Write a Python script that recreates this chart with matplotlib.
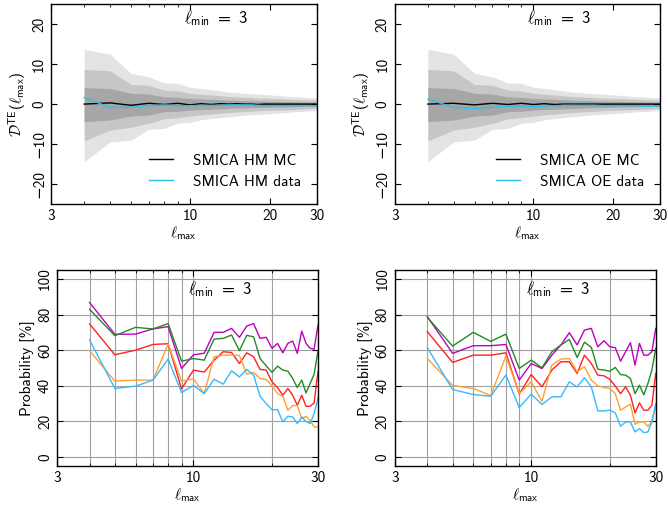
import numpy as np
import matplotlib
matplotlib.use("Agg")
import matplotlib.pyplot as plt
from matplotlib.ticker import FixedLocator, FixedFormatter, NullFormatter

plt.rcParams['font.family'] = ['cmss10', 'DejaVu Sans']
plt.rcParams['mathtext.fontset'] = 'custom'
plt.rcParams['mathtext.rm'] = 'cmss10'
plt.rcParams['mathtext.sf'] = 'cmss10'
plt.rcParams['mathtext.it'] = 'cmmi10'
plt.rcParams['mathtext.cal'] = 'cmsy10'
plt.rcParams['axes.unicode_minus'] = True

# multipoles
ell = list(range(4, 31))

# MC bands (1, 2, 3 sigma), upper and lower edges
band1_hi = [4.1, 3.9, 2.7, 2.5, 1.8, 1.7, 1.4, 1.3, 1.2, 1.1, 1.0, 0.95, 0.9, 0.85, 0.8,
            0.75, 0.7, 0.7, 0.65, 0.65, 0.6, 0.6, 0.55, 0.55, 0.5, 0.5, 0.5]
band1_lo = [-4.4, -4.0, -3.0, -2.75, -1.9, -1.8, -1.5, -1.4, -1.3, -1.2, -1.1, -1.0, -0.95,
            -0.9, -0.85, -0.8, -0.8, -0.75, -0.7, -0.7, -0.65, -0.65, -0.6, -0.6, -0.55, -0.55, -0.55]
band2_hi = [8.7, 8.3, 4.9, 4.7, 3.5, 3.3, 2.7, 2.5, 2.3, 2.1, 1.9, 1.8, 1.7, 1.6, 1.5,
            1.5, 1.4, 1.4, 1.3, 1.3, 1.2, 1.2, 1.1, 1.1, 1.0, 1.0, 1.0]
band2_lo = [-9.2, -6.5, -5.8, -4.8, -3.7, -3.4, -3.0, -2.7, -2.5, -2.3, -2.1, -2.0, -1.9,
            -1.8, -1.7, -1.6, -1.6, -1.5, -1.5, -1.4, -1.4, -1.3, -1.3, -1.2, -1.2, -1.1, -1.1]
band3_hi = [13.7, 12.5, 7.7, 6.8, 5.3, 5.2, 4.2, 3.9, 3.6, 3.3, 3.0, 2.9, 2.7, 2.6, 2.5,
            2.4, 2.3, 2.2, 2.1, 2.0, 1.9, 1.8, 1.8, 1.7, 1.6, 1.6, 1.5]
band3_lo = [-14.4, -9.5, -9.0, -6.3, -6.1, -4.8, -4.6, -3.9, -3.6, -3.4, -3.2, -3.0, -2.8,
            -2.7, -2.6, -2.5, -2.4, -2.3, -2.2, -2.1, -2.0, -1.9, -1.9, -1.8, -1.7, -1.7, -1.6]

hm_mc = [0.0, 0.3, -0.3, 0.2, -0.1, 0.2, -0.2, 0.1, -0.1, 0.1, 0.0, 0.1, 0.0, 0.0, -0.1,
         0.0, 0.0, 0.0, 0.0, 0.0, 0.0, 0.0, 0.0, 0.0, 0.0, 0.0, 0.0]
hm_data = [1.6, -0.8, -0.8, -0.4, -0.2, -0.4, -0.4, -0.3, -0.3, -0.3, -0.2, -0.2, -0.2, -0.2,
           -0.3, -0.4, -0.4, -0.4, -0.4, -0.4, -0.4, -0.4, -0.4, -0.4, -0.4, -0.4, -0.4]
oe_mc = [0.0, 0.2, -0.2, 0.2, -0.1, 0.2, -0.1, 0.1, -0.1, 0.0, 0.0, 0.0, 0.0, 0.0, 0.0,
         0.0, 0.0, 0.0, 0.0, 0.0, 0.0, 0.0, 0.0, 0.0, 0.0, 0.0, 0.0]
oe_data = [1.2, -0.8, -1.1, -0.8, -0.5, -0.5, -0.6, -0.5, -0.4, -0.3, -0.3, -0.3, -0.3, -0.3,
           -0.4, -0.4, -0.4, -0.4, -0.4, -0.4, -0.4, -0.5, -0.5, -0.5, -0.5, -0.5, -0.5]

# probabilities [%], HM
hm_magenta = [86.7, 68.9, 69.0, 71.9, 73.2, 49.7, 57.4, 58.3, 70.0, 70.0, 72.2, 67.2, 73.5, 74.9,
              66.6, 67.2, 61.0, 63.8, 58.5, 63.8, 65.1, 58.2, 70.7, 63.8, 61.0, 60.6, 74.0]
hm_green = [82.9, 68.1, 72.8, 71.9, 74.9, 53.8, 55.3, 54.4, 66.2, 66.6, 68.5, 59.7, 68.3, 67.5,
            55.3, 51.2, 47.5, 51.0, 48.8, 48.2, 44.1, 39.0, 43.2, 36.0, 41.3, 46.5, 59.5]
hm_red = [74.7, 57.4, 60.0, 63.2, 63.6, 38.3, 48.8, 47.7, 54.4, 59.1, 58.7, 52.5, 58.5, 56.3,
          49.2, 48.8, 42.2, 39.0, 34.7, 38.5, 34.7, 29.1, 34.7, 28.5, 28.5, 30.4, 48.0]
hm_orange = [59.7, 42.6, 43.2, 43.2, 63.4, 42.6, 43.9, 35.6, 56.3, 57.2, 57.2, 57.0, 46.5, 47.5,
             44.1, 43.5, 40.0, 35.6, 34.1, 26.3, 28.9, 28.9, 21.6, 22.9, 20.6, 16.9, 16.9]
hm_blue = [65.7, 38.5, 39.8, 43.2, 55.0, 36.2, 40.2, 35.6, 43.7, 40.9, 48.4, 45.0, 49.2, 46.0,
           34.1, 30.0, 26.6, 26.6, 19.7, 22.9, 22.5, 18.8, 22.5, 20.0, 18.8, 24.4, 33.0]

# probabilities [%], OE
oe_magenta = [78.8, 58.2, 62.5, 62.5, 63.2, 43.2, 52.5, 49.7, 57.2, 62.9, 69.8, 62.9, 71.3, 72.2,
              61.9, 65.3, 61.9, 61.4, 53.8, 59.1, 64.2, 51.6, 63.8, 57.2, 57.2, 59.1, 72.2]
oe_green = [78.4, 62.3, 70.0, 64.9, 69.0, 49.7, 54.4, 50.1, 59.1, 62.9, 66.0, 55.9, 64.5, 61.5,
            49.3, 48.8, 48.2, 50.3, 46.3, 46.0, 44.1, 35.6, 40.3, 34.9, 41.3, 48.8, 61.0]
oe_red = [70.4, 53.1, 57.2, 57.2, 58.5, 35.3, 46.3, 39.4, 48.8, 53.5, 53.5, 46.9, 57.2, 52.5,
          46.0, 45.6, 43.7, 39.8, 35.6, 39.4, 34.7, 24.8, 30.4, 26.3, 26.3, 29.1, 46.9]
oe_orange = [55.3, 40.2, 38.5, 34.5, 56.7, 35.6, 42.2, 31.3, 51.6, 55.0, 55.3, 47.8, 50.7, 43.2,
             40.0, 39.0, 38.5, 35.6, 26.3, 28.1, 29.6, 18.4, 19.7, 19.7, 17.3, 19.7, 28.0]
oe_blue = [61.4, 37.9, 35.1, 34.1, 46.0, 27.8, 35.3, 29.5, 33.8, 33.8, 42.2, 39.4, 44.5, 39.4,
           25.9, 25.9, 26.3, 24.8, 17.3, 19.7, 19.7, 14.1, 15.9, 13.7, 14.1, 19.7, 30.0]

minor_ell = [4, 5, 6, 7, 8, 9, 20]
cyan = '#33bbee'
prob_colors = ['#c000c0', '#228b22', '#ff2020', '#ffa030', '#33bbff']

fig = plt.figure(figsize=(6.68, 5.11), dpi=100)
ax_tl = fig.add_axes([0.0763, 0.6008, 0.398, 0.391])
ax_tr = fig.add_axes([0.5909, 0.6008, 0.397, 0.391])
ax_bl = fig.add_axes([0.0853, 0.0881, 0.3907, 0.3836])
ax_br = fig.add_axes([0.5909, 0.0881, 0.3907, 0.3836])


def style_axis(ax, xticks):
    ax.set_xscale('log')
    ax.set_xlim(3, 30)
    ax.xaxis.set_major_locator(FixedLocator(xticks))
    ax.xaxis.set_major_formatter(FixedFormatter([str(t) for t in xticks]))
    ax.xaxis.set_minor_locator(FixedLocator(minor_ell))
    ax.xaxis.set_minor_formatter(NullFormatter())
    ax.tick_params(which='both', direction='in', top=True, right=True, labelsize=11)
    ax.tick_params(which='major', length=4, width=0.8)
    ax.tick_params(which='minor', length=2, width=0.6)
    for lab in ax.get_yticklabels():
        lab.set_rotation(90)
        lab.set_va('center')
    ax.set_xlabel(r'$\ell_{\rm max}$', fontsize=11, labelpad=1)
    for s in ax.spines.values():
        s.set_linewidth(1.0)


for ax, mc, data, name in [(ax_tl, hm_mc, hm_data, 'HM'), (ax_tr, oe_mc, oe_data, 'OE')]:
    ax.fill_between(ell, band3_lo, band3_hi, color='#e3e3e3', lw=0)
    ax.fill_between(ell, band2_lo, band2_hi, color='#c6c6c6', lw=0)
    ax.fill_between(ell, band1_lo, band1_hi, color='#a6a6a6', lw=0)
    ax.plot(ell, mc, color='black', lw=1.0, label='SMICA %s MC' % name)
    ax.plot(ell, data, color=cyan, lw=1.0, label='SMICA %s data' % name)
    ax.set_ylim(-25, 25)
    ax.set_yticks([-20, -10, 0, 10, 20])
    style_axis(ax, [3, 10, 20, 30])
    ax.set_ylabel(r'$\mathcal{D}^{\rm TE}(\ell_{\rm max})$', fontsize=11, labelpad=2)
    ax.text(0.62, 0.93, r'$\ell_{\rm min}\ =\ 3$', transform=ax.transAxes,
            ha='center', va='center', fontsize=12)
    ax.legend(loc='lower right', frameon=False, fontsize=11, handlelength=1.6,
              handletextpad=1.3, borderaxespad=0.6, labelspacing=0.45)

for ax, series in [(ax_bl, [hm_magenta, hm_green, hm_red, hm_orange, hm_blue]),
                   (ax_br, [oe_magenta, oe_green, oe_red, oe_orange, oe_blue])]:
    ax.grid(True, which='both', color='#a0a0a0', lw=0.8)
    ax.set_axisbelow(True)
    for vals, c in zip(series, prob_colors):
        ax.plot(ell, vals, color=c, lw=1.0)
    ax.set_ylim(-5, 105)
    ax.set_yticks([0, 20, 40, 60, 80, 100])
    style_axis(ax, [3, 10, 30])
    ax.set_ylabel('Probability [%]', fontsize=11, labelpad=2)
    ax.text(0.625, 0.9, r'$\ell_{\rm min}\ =\ 3$', transform=ax.transAxes,
            ha='center', va='center', fontsize=12)

fig.savefig('out.png', dpi=100)
